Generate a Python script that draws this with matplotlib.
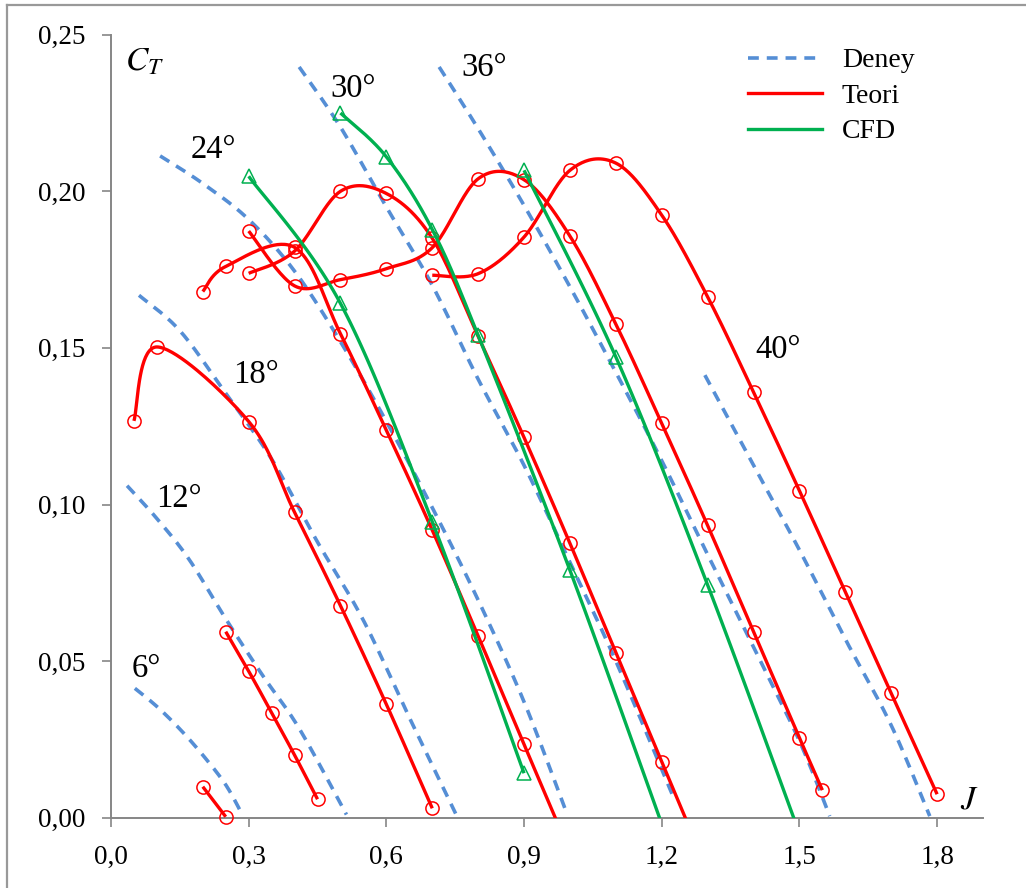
import numpy as np
import matplotlib
matplotlib.use('Agg')
import matplotlib.pyplot as plt
from matplotlib.lines import Line2D
from matplotlib.ticker import FixedLocator, FuncFormatter

plt.rcParams['font.family'] = ['Liberation Serif', 'DejaVu Serif']
plt.rcParams['mathtext.fontset'] = 'stix'

# ---------------- data ----------------
pitch_labels = ['6°', '12°', '18°', '24°', '30°', '36°', '40°']
label_J = [0.077, 0.149, 0.316, 0.222, 0.527, 0.813, 1.453]
label_CT = [0.0476, 0.1019, 0.1413, 0.2133, 0.2326, 0.2396, 0.1493]

# Deney (experiment)
deney_6_J = [0.052, 0.10, 0.15, 0.20, 0.25, 0.286]
deney_6_CT = [0.0413, 0.0355, 0.0283, 0.0200, 0.0105, 0.001]
deney_12_J = [0.035, 0.10, 0.17, 0.25, 0.33, 0.41, 0.513]
deney_12_CT = [0.106, 0.0955, 0.0825, 0.0635, 0.0455, 0.0285, 0.001]
deney_18_J = [0.061, 0.15, 0.25, 0.35, 0.45, 0.55, 0.65, 0.752]
deney_18_CT = [0.1668, 0.1555, 0.1355, 0.1145, 0.088, 0.063, 0.032, 0.001]
deney_24_J = [0.107, 0.20, 0.30, 0.40, 0.50, 0.60, 0.70, 0.80, 0.90, 0.989]
deney_24_CT = [0.2113, 0.2025, 0.191, 0.1745, 0.152, 0.1265, 0.099, 0.0695, 0.037, 0.003]
deney_30_J = [0.41, 0.50, 0.60, 0.70, 0.80, 0.90, 1.00, 1.10, 1.227]
deney_30_CT = [0.2397, 0.2205, 0.195, 0.170, 0.140, 0.1125, 0.0815, 0.050, 0.006]
deney_36_J = [0.715, 0.80, 0.90, 1.00, 1.10, 1.20, 1.30, 1.40, 1.50, 1.566]
deney_36_CT = [0.2397, 0.220, 0.1955, 0.1695, 0.1422, 0.114, 0.084, 0.0545, 0.0245, 0.0005]
deney_40_J = [1.294, 1.40, 1.50, 1.60, 1.70, 1.784]
deney_40_CT = [0.1413, 0.1125, 0.0855, 0.057, 0.0295, 0.0005]

# Teori (theory)
teori_6_J = [0.20, 0.25]
teori_6_CT = [0.0099, 0.0003]
teori_12_J = [0.25, 0.30, 0.35, 0.40, 0.45]
teori_12_CT = [0.0594, 0.0468, 0.0335, 0.020, 0.0059]
teori_18_J = [0.05, 0.10, 0.30, 0.40, 0.50, 0.60, 0.70]
teori_18_CT = [0.1267, 0.1503, 0.1265, 0.0975, 0.0677, 0.0362, 0.003]
teori_24_J = [0.20, 0.25, 0.40, 0.50, 0.60, 0.70, 0.80, 0.90, 1.00]
teori_24_CT = [0.168, 0.176, 0.1821, 0.1545, 0.1237, 0.0918, 0.058, 0.0234, -0.011]
teori_30_J = [0.30, 0.40, 0.50, 0.60, 0.70, 0.80, 0.90, 1.00, 1.10, 1.20, 1.30]
teori_30_CT = [0.1738, 0.1809, 0.200, 0.1993, 0.185, 0.1537, 0.1214, 0.0876, 0.0527, 0.0179, -0.017]
teori_36_J = [0.30, 0.40, 0.50, 0.60, 0.70, 0.80, 0.90, 1.00, 1.10, 1.20, 1.30, 1.40, 1.50, 1.55]
teori_36_CT = [0.1873, 0.1698, 0.1718, 0.1753, 0.182, 0.204, 0.2037, 0.1857, 0.1576, 0.1259,
               0.0933, 0.0594, 0.0255, 0.0088]
teori_40_J = [0.70, 0.80, 0.90, 1.00, 1.10, 1.20, 1.30, 1.40, 1.50, 1.60, 1.70, 1.80]
teori_40_CT = [0.1732, 0.1737, 0.1854, 0.2067, 0.209, 0.1924, 0.1663, 0.1359, 0.1044,
               0.0721, 0.0397, 0.0075]

# CFD
cfd_24_J = [0.30, 0.50, 0.70, 0.90]
cfd_24_CT = [0.2048, 0.1642, 0.0945, 0.0142]
cfd_30_J = [0.50, 0.60, 0.70, 0.80, 1.00, 1.20]
cfd_30_CT = [0.225, 0.211, 0.1878, 0.154, 0.079, -0.002]
cfd_36_J = [0.90, 1.10, 1.30, 1.50]
cfd_36_CT = [0.2067, 0.1471, 0.0743, -0.005]

x_ticks = [0.0, 0.3, 0.6, 0.9, 1.2, 1.5, 1.8]
y_ticks = [0.0, 0.05, 0.10, 0.15, 0.20, 0.25]
legend_labels = ['Deney', 'Teori', 'CFD']

deney = [(deney_6_J, deney_6_CT), (deney_12_J, deney_12_CT), (deney_18_J, deney_18_CT),
         (deney_24_J, deney_24_CT), (deney_30_J, deney_30_CT), (deney_36_J, deney_36_CT),
         (deney_40_J, deney_40_CT)]
teori = [(teori_6_J, teori_6_CT), (teori_12_J, teori_12_CT), (teori_18_J, teori_18_CT),
         (teori_24_J, teori_24_CT), (teori_30_J, teori_30_CT), (teori_36_J, teori_36_CT),
         (teori_40_J, teori_40_CT)]
cfd = [(cfd_24_J, cfd_24_CT), (cfd_30_J, cfd_30_CT), (cfd_36_J, cfd_36_CT)]

# ---------------- style ----------------
C_BLUE = '#558ED5'
C_RED = '#FF0000'
C_GREEN = '#00B050'
C_AXIS = '#868686'

W, H = 1026, 888
fig = plt.figure(figsize=(W / 100, H / 100), dpi=100)
ax = fig.add_axes([111 / W, 70.3 / H, (983 - 111) / W, (817.7 - 34.7) / H])
ax.set_xlim(0, 1.9)
ax.set_ylim(0, 0.25)


def smooth(x, y, n=40):
    """Excel-like smoothed line (cardinal Bezier) computed in display space."""
    pts = ax.transData.transform(np.column_stack([x, y]))
    if len(pts) < 3:
        return np.asarray(x, float), np.asarray(y, float)
    P = np.vstack([pts[0], pts, pts[-1]])
    t = np.linspace(0, 1, n)[:, None]
    segs = []
    for i in range(1, len(P) - 2):
        p0, p1, p2, p3 = P[i - 1], P[i], P[i + 1], P[i + 2]
        c1 = p1 + (p2 - p0) / 6.0
        c2 = p2 - (p3 - p1) / 6.0
        seg = (1 - t) ** 3 * p1 + 3 * (1 - t) ** 2 * t * c1 + 3 * (1 - t) * t ** 2 * c2 + t ** 3 * p2
        segs.append(seg if i == 1 else seg[1:])
    out = ax.transData.inverted().transform(np.vstack(segs))
    return out[:, 0], out[:, 1]


dash = (0, (3.0, 2.2))
for J, CT in deney:
    sx, sy = smooth(J, CT)
    ax.plot(sx, sy, color=C_BLUE, lw=2.6, linestyle=dash, zorder=2)

for J, CT in teori:
    sx, sy = smooth(J, CT)
    ax.plot(sx, sy, color=C_RED, lw=2.4, zorder=3, solid_capstyle='butt')
    J = np.asarray(J); CT = np.asarray(CT)
    m = CT >= 0
    ax.plot(J[m], CT[m], linestyle='none', marker='o', ms=9.5, mfc='none', mec=C_RED,
            mew=1.1, zorder=4, clip_on=False)

for J, CT in cfd:
    sx, sy = smooth(J, CT)
    ax.plot(sx, sy, color=C_GREEN, lw=2.4, zorder=5, solid_capstyle='butt')
    J = np.asarray(J); CT = np.asarray(CT)
    m = CT >= 0
    ax.plot(J[m], CT[m], linestyle='none', marker='^', ms=9.5, mfc='none', mec=C_GREEN,
            mew=1.1, zorder=6, clip_on=False)

for lab, lx, ly in zip(pitch_labels, label_J, label_CT):
    ax.text(lx, ly, lab, fontsize=23.5, ha='center', va='center', color='black', zorder=7)

ax.text(0.030, 0.2412, r'$C_T$', fontsize=24, ha='left', va='center')
ax.text(1.871, 0.0057, r'$J$', fontsize=24, ha='center', va='center')

# axes styling
for s in ['top', 'right']:
    ax.spines[s].set_visible(False)
for s in ['left', 'bottom']:
    ax.spines[s].set_color(C_AXIS)
    ax.spines[s].set_linewidth(1.4)
ax.xaxis.set_major_locator(FixedLocator(x_ticks))
ax.yaxis.set_major_locator(FixedLocator(y_ticks))
ax.xaxis.set_major_formatter(FuncFormatter(lambda v, p: f'{v:.1f}'.replace('.', ',')))
ax.yaxis.set_major_formatter(FuncFormatter(lambda v, p: f'{v:.2f}'.replace('.', ',')))
ax.tick_params(axis='both', direction='out', length=6.5, width=1.2, color=C_AXIS,
               labelsize=19.5, labelcolor='black')
ax.tick_params(axis='x', pad=13)
ax.tick_params(axis='y', pad=12)

handles = [Line2D([], [], color=C_BLUE, lw=2.6, linestyle=dash),
           Line2D([], [], color=C_RED, lw=2.4),
           Line2D([], [], color=C_GREEN, lw=2.4)]
ax.legend(handles, legend_labels, loc='upper left', bbox_to_anchor=(748 / W, 1 - 48 / H),
          bbox_transform=fig.transFigure, frameon=False, handlelength=2.66,
          handletextpad=0.72, labelspacing=0.36, borderpad=0, borderaxespad=0, fontsize=20)

# outer chart frame (left and top edges visible)
fig.add_artist(Line2D([7 / W, 7 / W], [0, 1 - 5 / H], transform=fig.transFigure,
                      color='#999999', lw=1.6))
fig.add_artist(Line2D([7 / W, 1], [1 - 5 / H, 1 - 5 / H], transform=fig.transFigure,
                      color='#999999', lw=1.6))

fig.savefig('out.png', dpi=100)
